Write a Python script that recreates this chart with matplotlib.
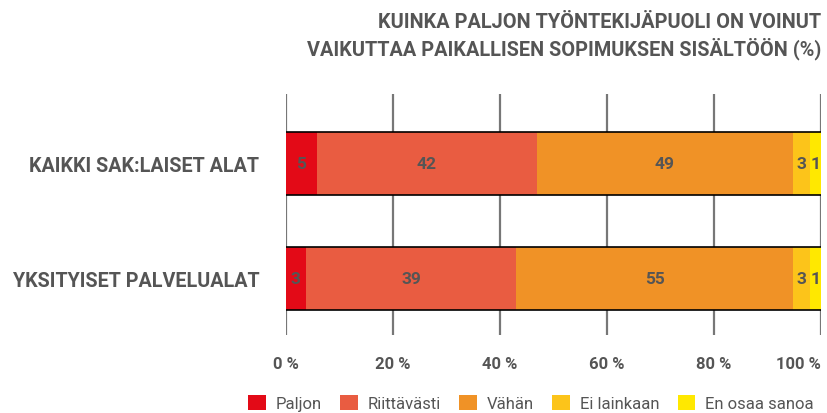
import numpy as np
import matplotlib
matplotlib.use("Agg")
import matplotlib.pyplot as plt
from matplotlib.patches import Patch

# ---------------------------------------------
# Dados
# ---------------------------------------------
otsikko = "KUINKA PALJON TYÖNTEKIJÄPUOLI ON VOINUT\nVAIKUTTAA PAIKALLISEN SOPIMUKSEN SISÄLTÖÖN (%)"
ryhmat = ["KAIKKI SAK:LAISET ALAT", "YKSITYISET PALVELUALAT"]
vastaukset = ["Paljon", "Riittävästi", "Vähän", "Ei lainkaan", "En osaa sanoa"]

# osuudet sellaisina kuin palkit on piirretty kuvaan (%)
osuus_kaikki = [5.8, 41.2, 47.7, 3.3, 2.0]
osuus_palvelu = [3.8, 39.3, 51.6, 3.3, 2.0]
# palkkeihin kirjoitetut luvut
luku_kaikki = [5, 42, 49, 3, 1]
luku_palvelu = [3, 39, 55, 3, 1]

tikit = [0, 20, 40, 60, 80, 100]
tikki_tekstit = ["0 %", "20 %", "40 %", "60 %", "80 %", "100 %"]

varit = ["#E30A17", "#E95C41", "#F09226", "#FCC41A", "#FFE800"]
harmaa = "#555555"

# ---------------------------------------------
# Kuva
# ---------------------------------------------
plt.rcParams["font.family"] = ["Roboto", "DejaVu Sans"]

fig = plt.figure(figsize=(8.27, 4.14), dpi=100)
ax = fig.add_axes([0.3455, 0.1884, 0.9927 - 0.3455, 0.7705 - 0.1884])

osuudet = np.array([osuus_kaikki, osuus_palvelu])
luvut = np.array([luku_kaikki, luku_palvelu])
ypos = np.arange(len(ryhmat))
korkeus = 0.545

vasen = np.zeros(len(ryhmat))
for j, nimi in enumerate(vastaukset):
    leveys = osuudet[:, j]
    ax.barh(ypos, leveys, left=vasen, height=korkeus, color=varit[j],
            linewidth=0, zorder=2)
    for i in range(len(ryhmat)):
        ax.text(vasen[i] + leveys[i] / 2, ypos[i], str(luvut[i, j]),
                ha="center", va="center", fontsize=12.5, fontweight="bold",
                color=harmaa, zorder=4)
    vasen += leveys

# mustat reunaviivat palkkien ylä- ja alapuolelle
for i in range(len(ryhmat)):
    ax.hlines([ypos[i] - korkeus / 2, ypos[i] + korkeus / 2], 0, vasen[i],
              color="black", linewidth=1.2, zorder=3)

ax.set_xlim(0, 100)
ax.set_ylim(1.485, -0.60)
ax.set_xticks(tikit)
ax.set_xticklabels(tikki_tekstit, fontsize=12, fontweight="bold", color=harmaa)
ax.get_xticklabels()[-1].set_horizontalalignment("right")
ax.tick_params(axis="x", length=0, pad=15)
ax.set_yticks(ypos)
ax.set_yticklabels(ryhmat, fontsize=14.2, fontweight="bold", color=harmaa)
ax.tick_params(axis="y", length=0, pad=19)
ax.grid(axis="x", color="#777777", linewidth=1.6, zorder=1)
ax.set_axisbelow(True)
for s in ax.spines.values():
    s.set_visible(False)

fig.text(0.9927, 0.968, otsikko, ha="right", va="top", fontsize=14.3,
         fontweight="bold", color=harmaa, linespacing=1.3)

kahvat = [Patch(facecolor=c, edgecolor="none") for c in varit]
fig.legend(kahvat, vastaukset, loc="lower right", bbox_to_anchor=(0.998, -0.024),
           ncol=5, frameon=False, fontsize=12, handlelength=1.05,
           handleheight=1.05, handletextpad=0.6, columnspacing=1.1,
           labelcolor=harmaa, borderpad=0.2)

fig.savefig("out.png", dpi=100)
